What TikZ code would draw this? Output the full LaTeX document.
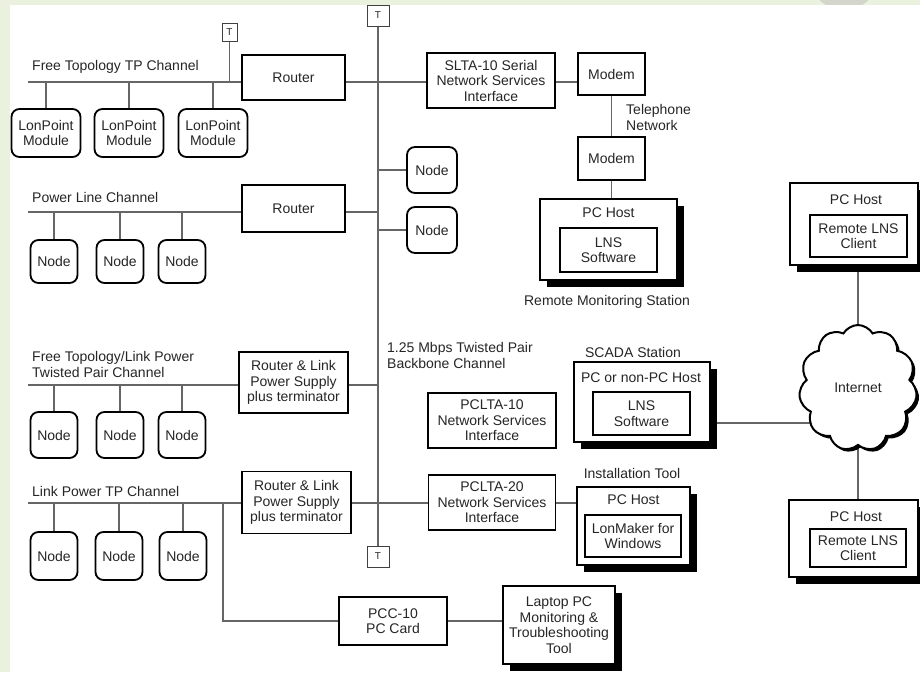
\documentclass[tikz,border=0pt]{standalone}
\usepackage{fontspec}
\setmainfont{Liberation Sans}
\usetikzlibrary{shapes.symbols,shadows}
\newcommand\dfont{\fontsize{14}{15.5}\selectfont}
\definecolor{paperedge}{RGB}{234,241,222}
\definecolor{blob}{RGB}{212,214,204}
\pgfdeclarelayer{paper}
\pgfdeclarelayer{wires}
\pgfsetlayers{paper,wires,main}

\begin{document}
\begin{tikzpicture}[x=1pt,y=-1pt,
  lbl/.style={font=\dfont, text=black!85, inner sep=0pt, align=center},
  box/.style={draw=black, line width=1.8pt, fill=white, inner sep=0pt,
    align=center, font=\dfont, text=black!85},
  rbox/.style={box, rounded corners=8pt},
  sbox/.style={box, drop shadow={shadow xshift=7pt, shadow yshift=-7pt,
    fill=black, opacity=1}},
  wire/.style={draw=black!60, line width=1.4pt},
  tbox/.style={draw=black!75, line width=1pt, fill=white, inner sep=0pt,
    font=\fontsize{10}{10}\selectfont, text=black!85}]

\useasboundingbox (0,0) rectangle (920,672);

\begin{pgfonlayer}{paper}
  \fill[paperedge] (0,0) rectangle (920,672);
  \fill[blob] (844,-25) circle (35);
  \fill[white] (10,5) rectangle (920,672);
\end{pgfonlayer}

% ---------- terminators ----------
\node[tbox, minimum width=15pt, minimum height=18pt] (t0) at (229.5,32) {T};
\node[tbox, minimum width=22pt, minimum height=21pt] (tb1) at (378,15.5) {T};
\node[tbox, minimum width=22pt, minimum height=21pt] (tb2) at (378,556.5) {T};

% ---------- free topology TP channel ----------
\node[lbl, anchor=west] (ch1) at (32,67) {Free Topology TP Channel};
\coordinate (c1) at (28,82);
\node[box, minimum width=103pt, minimum height=45pt] (r1) at (293.5,77.5) {Router};
\node[rbox, minimum width=69pt, minimum height=48pt] (lp1) at (46,133) {LonPoint\\Module};
\node[rbox, minimum width=69pt, minimum height=48pt] (lp2) at (129,133) {LonPoint\\Module};
\node[rbox, minimum width=69pt, minimum height=48pt] (lp3) at (213,133) {LonPoint\\Module};

% ---------- serial interface and remote monitoring ----------
\node[box, minimum width=128pt, minimum height=55pt] (slta) at (491,80.5)
  {SLTA-10 Serial\\Network Services\\Interface};
\node[box, minimum width=67pt, minimum height=42pt] (m1) at (611.5,74) {Modem};
\node[box, minimum width=67pt, minimum height=43pt] (m2) at (611.5,158.5) {Modem};
\node[lbl, anchor=west, align=left] (tel) at (626,117.5) {Telephone\\Network};
\node[sbox, minimum width=137pt, minimum height=81pt] (pch1) at (608.5,239.5) {};
\node[lbl] (pch1l) at (608.5,213) {PC Host};
\node[box, minimum width=97pt, minimum height=44pt] (lns1) at (608.5,250) {LNS\\Software};
\node[lbl] (rms) at (607,302) {Remote Monitoring Station};

% ---------- backbone nodes ----------
\node[rbox, minimum width=50pt, minimum height=46pt] (bn1) at (432,170) {Node};
\node[rbox, minimum width=50pt, minimum height=46pt] (bn2) at (432,230) {Node};

% ---------- power line channel ----------
\node[lbl, anchor=west] (ch2) at (32,197) {Power Line Channel};
\coordinate (c2) at (28,212);
\node[box, minimum width=103pt, minimum height=47pt] (r2) at (293.5,208.5) {Router};
\node[rbox, minimum width=47pt, minimum height=43pt] (pn1) at (54,261.5) {Node};
\node[rbox, minimum width=47pt, minimum height=43pt] (pn2) at (120,261.5) {Node};
\node[rbox, minimum width=47pt, minimum height=43pt] (pn3) at (182,261.5) {Node};

% ---------- free topology / link power channel ----------
\node[lbl, anchor=west, align=left] (ch3) at (32,364.5)
  {Free Topology/Link Power\\Twisted Pair Channel};
\coordinate (c3) at (28,385);
\node[box, minimum width=109pt, minimum height=61pt] (r3) at (293.5,382.5)
  {Router \& Link\\Power Supply\\plus terminator};
\node[rbox, minimum width=47pt, minimum height=46pt] (tn1) at (54,435) {Node};
\node[rbox, minimum width=47pt, minimum height=46pt] (tn2) at (120,435) {Node};
\node[rbox, minimum width=47pt, minimum height=46pt] (tn3) at (182,435) {Node};

% ---------- link power TP channel ----------
\node[lbl, anchor=west] (ch4) at (32,491) {Link Power TP Channel};
\coordinate (c4) at (28,503);
\coordinate (c4b) at (223,503);
\node[box, minimum width=109pt, minimum height=62pt] (r4) at (296.5,502.5)
  {Router \& Link\\Power Supply\\plus terminator};
\node[rbox, minimum width=47pt, minimum height=48pt] (ln1) at (54,556) {Node};
\node[rbox, minimum width=47pt, minimum height=48pt] (ln2) at (119,556) {Node};
\node[rbox, minimum width=47pt, minimum height=48pt] (ln3) at (183,556) {Node};

% ---------- backbone interfaces ----------
\node[lbl, anchor=west, align=left] (bbl) at (387,355.5)
  {1.25 Mbps Twisted Pair\\Backbone Channel};
\node[box, minimum width=128pt, minimum height=55pt] (pc10) at (492,420.5)
  {PCLTA-10\\Network Services\\Interface};
\node[box, minimum width=127pt, minimum height=55pt] (pc20) at (492,502.5)
  {PCLTA-20\\Network Services\\Interface};

% ---------- SCADA station ----------
\node[lbl] (scl) at (633,352) {SCADA Station};
\node[sbox, minimum width=136pt, minimum height=80pt] (scada) at (642,402) {};
\node[lbl] (scadal) at (641,377.5) {PC or non-PC Host};
\node[box, minimum width=97pt, minimum height=43pt] (lns2) at (641.5,413.5) {LNS\\Software};
\coordinate (sc) at (700,423);

% ---------- installation tool ----------
\node[lbl] (itl) at (632,473) {Installation Tool};
\node[sbox, minimum width=113pt, minimum height=78pt] (inst) at (633.5,526) {};
\node[lbl] (instl) at (633.5,500) {PC Host};
\node[box, minimum width=96pt, minimum height=42pt] (lm) at (633,536) {LonMaker for\\Windows};

% ---------- PC card and laptop ----------
\node[box, minimum width=108pt, minimum height=48pt] (pcc) at (393,621) {PCC-10\\PC Card};
\node[sbox, minimum width=112pt, minimum height=78pt] (lap) at (559,625)
  {Laptop PC\\Monitoring \&\\Troubleshooting\\Tool};

% ---------- remote clients and internet ----------
\node[sbox, minimum width=128pt, minimum height=82pt] (pcr1) at (854,224) {};
\node[lbl] (pcr1l) at (856,200) {PC Host};
\node[box, minimum width=97pt, minimum height=42pt] (rc1) at (858.5,236) {Remote LNS\\Client};
\node[sbox, minimum width=129pt, minimum height=77pt] (pcr2) at (853.5,538.5) {};
\node[lbl] (pcr2l) at (856,517) {PC Host};
\node[box, minimum width=96pt, minimum height=38pt] (rc2) at (858,548) {Remote LNS\\Client};
\node[cloud, draw=black, line width=2pt, fill=white, cloud puffs=11,
  cloud puff arc=120, aspect=1, minimum width=118pt, minimum height=126pt,
  inner sep=0pt, font=\dfont, text=black!85,
  drop shadow={shadow xshift=2.5pt, shadow yshift=-2.5pt, fill=black, opacity=1}]
  (net) at (858,388) {Internet};

% ---------- connectors ----------
\begin{pgfonlayer}{wires}
  \draw[wire] (tb1.south) -- (tb2.north);
  % free topology TP channel
  \draw[wire] (c1) -- (c1 -| r1.west);
  \draw[wire] (t0.south) -- (t0.south |- c1);
  \foreach \n in {lp1,lp2,lp3} \draw[wire] (\n.north) -- (\n.north |- c1);
  \draw[wire] (c1 -| r1.east) -- (c1 -| slta.west);
  \draw[wire] (c1 -| slta.east) -- (c1 -| m1.west);
  \draw[wire] (m1.south) -- (m2.north);
  \draw[wire] (m2.south) -- (m2.south |- pch1.north);
  % backbone nodes
  \draw[wire] (bn1.west) -- (bn1.west -| tb1.south);
  \draw[wire] (bn2.west) -- (bn2.west -| tb1.south);
  % power line channel
  \draw[wire] (c2) -- (c2 -| r2.west);
  \draw[wire] (c2 -| r2.east) -- (c2 -| tb1.south);
  \foreach \n in {pn1,pn2,pn3} \draw[wire] (\n.north) -- (\n.north |- c2);
  % free topology / link power channel
  \draw[wire] (c3) -- (c3 -| r3.west);
  \draw[wire] (c3 -| r3.east) -- (c3 -| tb1.south);
  \foreach \n in {tn1,tn2,tn3} \draw[wire] (\n.north) -- (\n.north |- c3);
  % link power TP channel
  \draw[wire] (c4) -- (c4 -| r4.west);
  \draw[wire] (c4 -| r4.east) -- (c4 -| pc20.west);
  \draw[wire] (c4 -| pc20.east) -- (c4 -| inst.west);
  \foreach \n in {ln1,ln2,ln3} \draw[wire] (\n.north) -- (\n.north |- c4);
  \draw[wire] (c4b) |- (pcc.west);
  \draw[wire] (pcc.east) -- (pcc.east -| lap.west);
  % internet links
  \draw[wire] (sc) -- (sc -| net.center);
  \draw[wire] (net.center |- pcr1.south) -- (net.center);
  \draw[wire] (net.center) -- (net.center |- pcr2.north);
\end{pgfonlayer}
\end{tikzpicture}
\end{document}
